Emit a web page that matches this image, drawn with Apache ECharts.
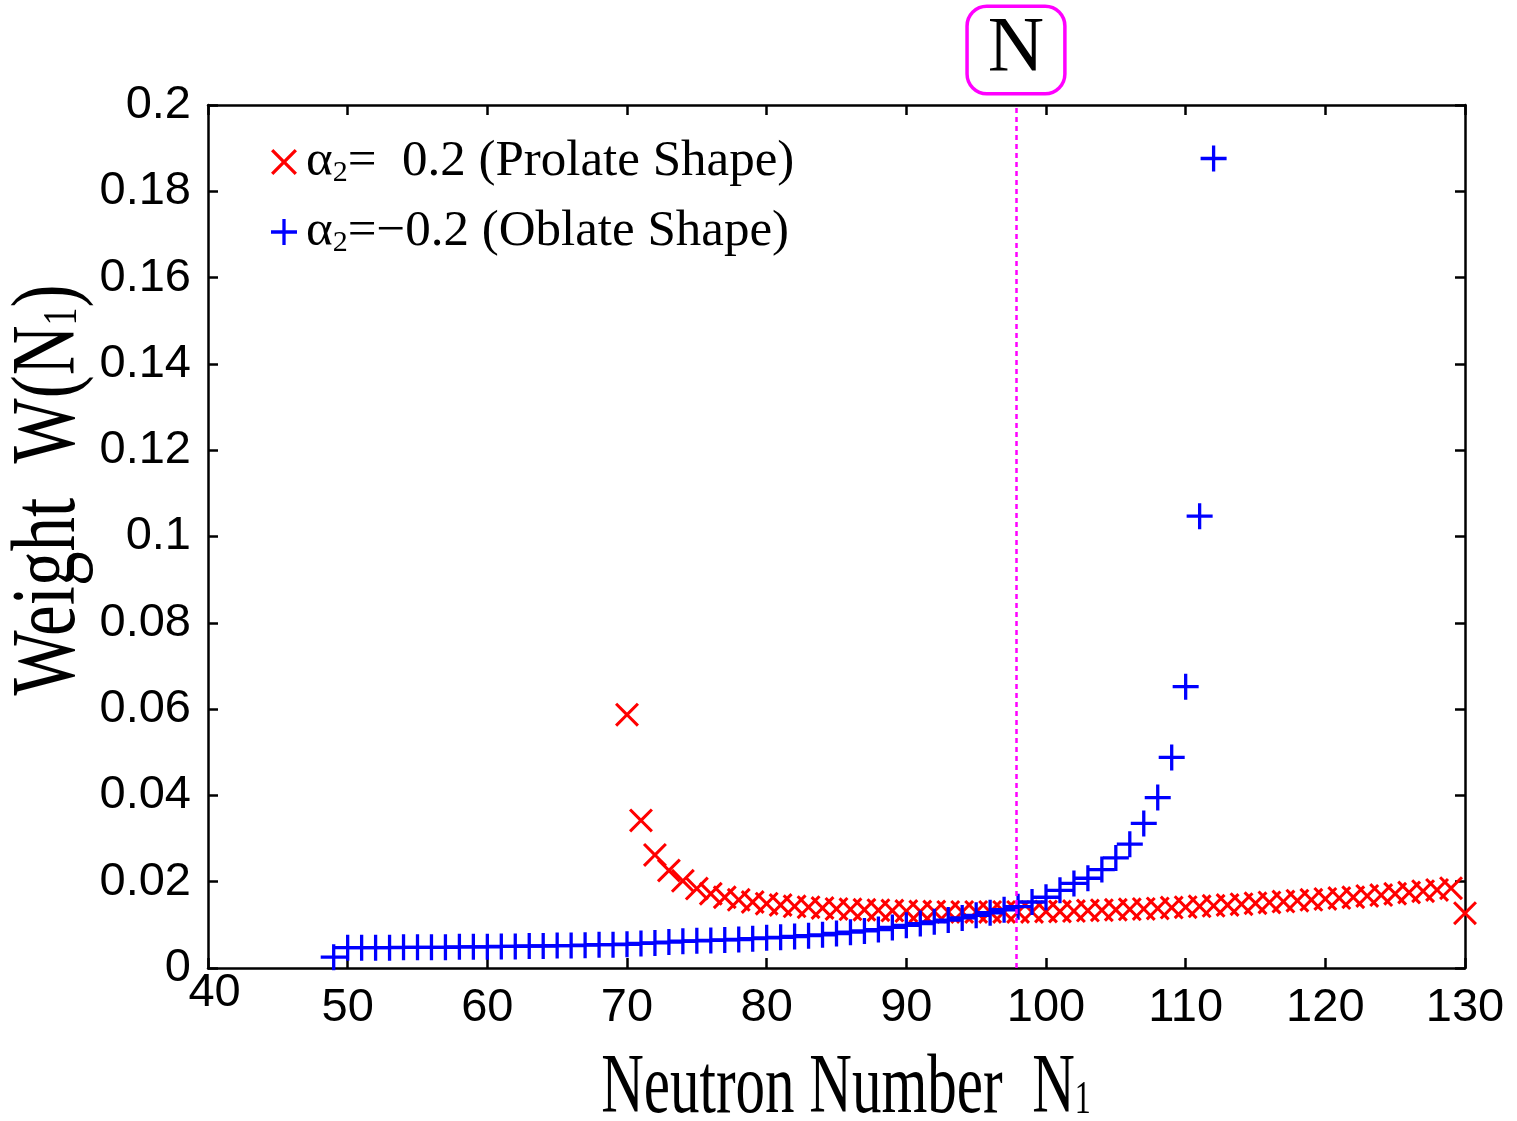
<!DOCTYPE html>
<html><head><meta charset="utf-8">
<script src="https://cdn.jsdelivr.net/npm/echarts@6/dist/echarts.min.js"></script>
<style>html,body{margin:0;padding:0;background:#fff}#c{width:1517px;height:1121px}</style>
</head><body><div id="c"></div>
<script>
// ---- data ----
const prolateN = [70,71,72,73,74,75,76,77,78,79,80,81,82,83,84,85,86,87,88,89,90,91,92,93,94,95,96,97,98,99,100,101,102,103,104,105,106,107,108,109,110,111,112,113,114,115,116,117,118,119,120,121,122,123,124,125,126,127,128,129,130];
const prolateW = [0.0587,0.0342,0.0262,0.0226,0.0202,0.0184,0.0172,0.0164,0.0158,0.0153,0.0149,0.0146,0.0143,0.0141,0.0139,0.0137,0.0136,0.0135,0.0134,0.0133,0.0132,0.0131,0.0131,0.0130,0.0130,0.0130,0.0130,0.0130,0.0130,0.0130,0.0131,0.0131,0.0132,0.0133,0.0134,0.0135,0.0136,0.0137,0.0138,0.0140,0.0141,0.0143,0.0144,0.0146,0.0148,0.0150,0.0152,0.0154,0.0156,0.0158,0.0160,0.0162,0.0164,0.0167,0.0169,0.0172,0.0175,0.0178,0.0181,0.0185,0.0127];
const oblateN = [49,50,51,52,53,54,55,56,57,58,59,60,61,62,63,64,65,66,67,68,69,70,71,72,73,74,75,76,77,78,79,80,81,82,83,84,85,86,87,88,89,90,91,92,93,94,95,96,97,98,99,100,101,102,103,104,105,106,107,108,109,110,111,112];
const oblateW = [0.0025,0.0047,0.0047,0.0047,0.0047,0.0048,0.0048,0.0048,0.0048,0.0049,0.0049,0.0049,0.0050,0.0050,0.0051,0.0051,0.0052,0.0052,0.0053,0.0054,0.0054,0.0055,0.0057,0.0058,0.0060,0.0062,0.0063,0.0064,0.0065,0.0066,0.0068,0.0070,0.0071,0.0073,0.0075,0.0077,0.0080,0.0083,0.0086,0.0089,0.0094,0.0099,0.0103,0.0107,0.0111,0.0116,0.0122,0.0128,0.0135,0.0142,0.0153,0.0164,0.0180,0.0196,0.0208,0.0228,0.0255,0.0287,0.0335,0.0395,0.0488,0.0652,0.1047,0.1876];
const refLineN = 97.85;
const refLabel = 'N';
const xTickLabels = ['40','50','60','70','80','90','100','110','120','130'];
const yTickLabels = ['0','0.02','0.04','0.06','0.08','0.1','0.12','0.14','0.16','0.18','0.2'];
const seriesNames = ['prolate','oblate'];
const legendTexts = {prolate:'α{s|2}=  0.2 (Prolate Shape)', oblate:'α{s|2}=\u22120.2 (Oblate Shape)'};
const xTitle = 'Neutron Number  N{s|1}';
const yTitle = 'Weight  W(N{s|1})';

// ---- styles ----
const PLUS = 'path://M0,13.1H13.1V0H16.9V13.1H30V16.9H16.9V30H13.1V16.9H0Z';
const CROSS = 'path://M9,0L50,41L91,0L100,9L59,50L100,91L91,100L50,59L9,100L0,91L41,50L0,9Z';
const SANS = 'Liberation Sans, Arial, sans-serif';
const SERIF = 'Liberation Serif, Times New Roman, serif';
const axisLineStyle = {color:'#000', width:2.5};

const chart = echarts.init(document.getElementById('c'), null, {renderer:'canvas'});
const pair = (xs, ys) => xs.map((x,i)=>[x, ys[i]]);

chart.setOption({
  animation:false,
  backgroundColor:'#fff',
  grid:{left:208, right:52, top:105, bottom:153, containLabel:false},
  xAxis:[
    {type:'value', min:40, max:130, interval:10, position:'bottom',
     axisLine:{show:true, onZero:false, lineStyle:axisLineStyle},
     axisTick:{show:true, inside:true, length:10, lineStyle:axisLineStyle},
     axisLabel:{show:true, margin:17, color:'#000', fontSize:47, fontFamily:SANS,
       formatter:(v)=>{const s=xTickLabels[Math.round((v-40)/10)]; return s==='40'?'':s;}},
     splitLine:{show:false}},
    {type:'value', min:40, max:130, interval:10, position:'top',
     axisLine:{show:true, onZero:false, lineStyle:axisLineStyle},
     axisTick:{show:true, inside:true, length:10, lineStyle:axisLineStyle},
     axisLabel:{show:false}, splitLine:{show:false}},
    {type:'value', min:40, max:130, interval:10, position:'bottom',
     axisLine:{show:false}, axisTick:{show:false}, splitLine:{show:false},
     axisLabel:{show:true, margin:2, color:'#000', fontSize:47, fontFamily:SANS,
       formatter:(v)=>{const s=xTickLabels[Math.round((v-40)/10)]; return s==='40'?' '+s:'';}}}
  ],
  yAxis:[
    {type:'value', min:0, max:0.2, interval:0.02, position:'left',
     axisLine:{show:true, onZero:false, lineStyle:axisLineStyle},
     axisTick:{show:true, inside:true, length:10, lineStyle:axisLineStyle},
     axisLabel:{show:true, margin:17, color:'#000', fontSize:47, fontFamily:SANS,
       formatter:(v)=>yTickLabels[Math.round(v/0.02)]},
     splitLine:{show:false}},
    {type:'value', min:0, max:0.2, interval:0.02, position:'right',
     axisLine:{show:true, onZero:false, lineStyle:axisLineStyle},
     axisTick:{show:true, inside:true, length:10, lineStyle:axisLineStyle},
     axisLabel:{show:false}, splitLine:{show:false}}
  ],
  legend:{
    show:true, orient:'vertical', left:266, top:131, itemWidth:26, itemHeight:26, itemGap:18,
    data:seriesNames,
    formatter:(n)=>legendTexts[n],
    textStyle:{color:'#000', fontFamily:SERIF, fontSize:51, lineHeight:52, padding:[0,0,0,4],
      rich:{s:{fontFamily:SERIF, fontSize:30, verticalAlign:'bottom', lineHeight:42, color:'#000'}}}
  },
  graphic:[
    {type:'text', x:846, y:1090, scaleY:1.45, silent:true,
     style:{text:xTitle, fill:'#000', font:'59px '+SERIF, align:'center', verticalAlign:'middle',
       rich:{s:{fontSize:32, fontFamily:SERIF, verticalAlign:'bottom', lineHeight:52, padding:[0,0,6,0], fill:'#000'}}}},
    {type:'text', x:50, y:490, rotation:Math.PI/2, scaleY:1.32, silent:true,
     style:{text:yTitle, fill:'#000', font:'69px '+SERIF, align:'center', verticalAlign:'middle',
       rich:{s:{fontSize:36, fontFamily:SERIF, verticalAlign:'bottom', lineHeight:60, padding:[0,0,6,0], fill:'#000'}}}}
  ],
  series:[
    {name:seriesNames[0], type:'scatter', xAxisIndex:0, yAxisIndex:0, clip:false,
     symbol:CROSS, symbolSize:24, itemStyle:{color:'#ff0000', opacity:1},
     data:pair(prolateN, prolateW)},
    {name:seriesNames[1], type:'scatter', xAxisIndex:0, yAxisIndex:0, clip:false,
     symbol:PLUS, symbolSize:26, itemStyle:{color:'#0000ff', opacity:1},
     data:pair(oblateN, oblateW),
     markLine:{silent:true, symbol:'none',
       lineStyle:{color:'#ff00ff', width:2.5, type:[5,4]},
       label:{show:true, position:'end', distance:13, formatter:refLabel,
         color:'#000', fontFamily:SERIF, fontSize:78, lineHeight:78,
         backgroundColor:'#fff', borderColor:'#ff00ff', borderWidth:3.5, borderRadius:18,
         padding:[3,19,3,19]},
       data:[{xAxis:refLineN}]}}
  ]
});
</script></body></html>
